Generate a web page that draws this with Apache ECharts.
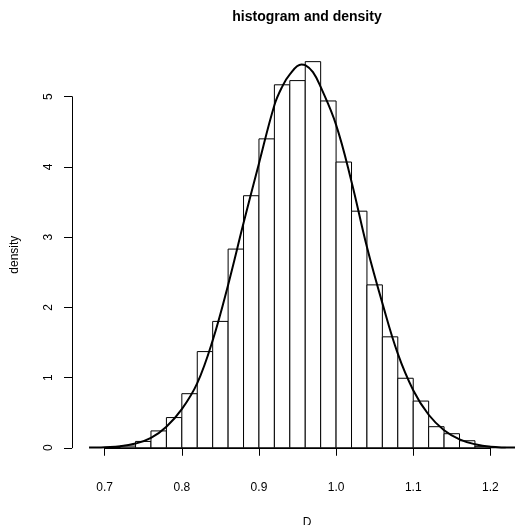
<!DOCTYPE html>
<html>
<head>
<meta charset="utf-8">
<script src="https://cdn.jsdelivr.net/npm/echarts@6/dist/echarts.min.js"></script>
<style>
html,body{margin:0;padding:0;background:#fff;}
#c{width:515px;height:525px;}
</style>
</head>
<body>
<div id="c"></div>
<script>
// Histogram bins (left edges, width 0.02) and densities
const binStart = [0.70,0.72,0.74,0.76,0.78,0.80,0.82,0.84,0.86,0.88,0.90,0.92,0.94,0.96,0.98,1.00,1.02,1.04,1.06,1.08,1.10,1.12,1.14,1.16,1.18,1.20];
const binDensity = [0.005,0.024,0.09,0.24,0.43,0.77,1.37,1.80,2.83,3.59,4.40,5.17,5.23,5.50,4.94,4.07,3.37,2.32,1.58,0.99,0.665,0.30,0.20,0.10,0.02,0.005];
const binWidth = 0.02;
// Density curve
const curveX = [0.6797,0.69,0.70,0.72,0.74,0.76,0.78,0.80,0.82,0.84,0.86,0.88,0.90,0.92,0.93,0.94,0.955,0.96,0.97,0.98,1.00,1.02,1.04,1.06,1.08,1.10,1.12,1.14,1.16,1.18,1.20,1.232];
const curveY = [0.002,0.004,0.008,0.02,0.06,0.14,0.30,0.55,0.92,1.53,2.32,3.20,4.05,4.88,5.14,5.32,5.46,5.45,5.35,5.14,4.60,3.79,2.86,2.06,1.34,0.82,0.47,0.25,0.12,0.05,0.015,0.002];
// Tick labels
const xTicks = ['0.7','0.8','0.9','1.0','1.1','1.2'];
const yTicks = ['0','1','2','3','4','5'];

const titleText = 'histogram and density';
const xName = 'D';
const yName = 'density';

// full plot region (extends past the right edge of the window)
const L = 72, W = 460, T = 46.2, H = 417;
const xmin = 0.6576, xmaxFull = 1.254, ymin = -0.22, ymax = 5.72;
const CW = 515;
const Wvis = CW - L;                       // visible part of plot region
const xmax = xmin + (xmaxFull - xmin) * Wvis / W;
const px = v => L + (v - xmin) / (xmaxFull - xmin) * W;
const py = v => T + (ymax - v) / (ymax - ymin) * H;
const xt0 = parseFloat(xTicks[0]), xt1 = parseFloat(xTicks[xTicks.length-1]);
const yt0 = parseFloat(yTicks[0]), yt1 = parseFloat(yTicks[yTicks.length-1]);

const FONT = 'Liberation Sans, Arial, Helvetica, sans-serif';

const chart = echarts.init(document.getElementById('c'), null, {renderer:'canvas'});
chart.setOption({
  animation:false,
  backgroundColor:'#fff',
  title:[
    {text:titleText,left:L+W/2,top:5,textAlign:'center',
     textStyle:{fontFamily:FONT,fontSize:14,fontWeight:'bold',color:'#000'}},
    {text:xName,left:L+W/2,top:512,textAlign:'center',
     textStyle:{fontFamily:FONT,fontSize:12,fontWeight:'normal',color:'#000'}}
  ],
  grid:[
    {left:L,top:T,width:Wvis,height:H},
    {left:px(xt0),top:T,width:px(xt1)-px(xt0),height:H},
    {left:L,top:py(yt1),width:Wvis,height:py(yt0)-py(yt1)}
  ],
  xAxis:[
    {gridIndex:0,type:'value',min:xmin,max:xmax,show:false},
    {gridIndex:1,type:'value',min:xt0,max:xt1,interval:0.1,
     axisLine:{show:true,lineStyle:{color:'#000',width:1}},
     axisTick:{show:true,length:8,lineStyle:{color:'#000'}},
     axisLabel:{show:true,margin:18,fontFamily:FONT,fontSize:12,color:'#000',
       formatter:(v)=>{const i=Math.round((v-xt0)/0.1);return xTicks[i]!==undefined?xTicks[i]:'';}},
     splitLine:{show:false}},
    {gridIndex:2,type:'value',min:xmin,max:xmax,show:false}
  ],
  yAxis:[
    {gridIndex:0,type:'value',min:ymin,max:ymax,
     axisLine:{show:false},axisTick:{show:false},axisLabel:{show:false},splitLine:{show:false},
     name:yName,nameLocation:'middle',nameGap:51,nameRotate:90,
     nameTextStyle:{fontFamily:FONT,fontSize:12,color:'#000'}},
    {gridIndex:1,type:'value',min:ymin,max:ymax,show:false},
    {gridIndex:2,type:'value',min:yt0,max:yt1,interval:1,
     axisLine:{show:true,lineStyle:{color:'#000',width:1}},
     axisTick:{show:true,length:8,lineStyle:{color:'#000'}},
     axisLabel:{show:true,margin:17,rotate:90,fontFamily:FONT,fontSize:12,color:'#000',
       formatter:(v)=>{const i=Math.round(v-yt0);return yTicks[i]!==undefined?yTicks[i]:'';}},
     splitLine:{show:false}}
  ],
  series:[
    {type:'custom',xAxisIndex:0,yAxisIndex:0,
     data:binStart.map((s,i)=>[s,s+binWidth,binDensity[i]]),
     renderItem:(params,api)=>{
       const p0=api.coord([api.value(0),0]);
       const p1=api.coord([api.value(1),api.value(2)]);
       return {type:'rect',shape:{x:p0[0],y:p1[1],width:p1[0]-p0[0],height:p0[1]-p1[1]},
         style:{fill:'#fff',stroke:'#000',lineWidth:1}};
     }},
    {type:'line',xAxisIndex:0,yAxisIndex:0,
     data:curveX.map((x,i)=>[x,curveY[i]]),
     smooth:0.4,showSymbol:false,symbol:'none',
     lineStyle:{color:'#000',width:2},z:5}
  ]
});
</script>
</body>
</html>
